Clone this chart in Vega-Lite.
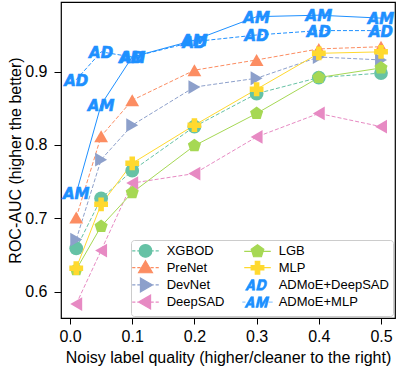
{
  "$schema": "https://vega.github.io/schema/vega-lite/v6.json",
  "width": 334,
  "height": 316,
  "autosize": "none",
  "padding": {"left": 61, "top": 2, "right": 3, "bottom": 54},
  "background": "white",
  "config": {
    "view": {"stroke": "black", "strokeWidth": 1.2},
    "axis": {"labelFont": "Liberation Sans", "labelFontSize": 16, "labelColor": "black", "titleFont": "Liberation Sans", "titleFontSize": 16, "titleFontWeight": "normal", "titleColor": "black", "tickColor": "black", "tickSize": 6, "tickWidth": 1, "domain": false, "grid": false, "labelFlush": false, "labelOverlap": false},
    "legend": {"orient": "bottom-right", "offset": 2, "padding": 4, "strokeColor": "#cccccc", "fillColor": "rgba(255,255,255,0.8)", "cornerRadius": 3, "columns": 2, "columnPadding": 16, "rowPadding": -1.8, "labelFont": "Liberation Sans", "labelFontSize": 13, "labelColor": "black", "symbolOffset": 4, "labelOffset": 14.7, "symbolSize": 160}
  },
  "data": {"values": [
    {"m": "XGBOD", "x": 0.01, "y": 0.659}, {"m": "XGBOD", "x": 0.05, "y": 0.727}, {"m": "XGBOD", "x": 0.1, "y": 0.765}, {"m": "XGBOD", "x": 0.2, "y": 0.825}, {"m": "XGBOD", "x": 0.3, "y": 0.870}, {"m": "XGBOD", "x": 0.4, "y": 0.892}, {"m": "XGBOD", "x": 0.5, "y": 0.898},
    {"m": "PreNet", "x": 0.01, "y": 0.701}, {"m": "PreNet", "x": 0.05, "y": 0.812}, {"m": "PreNet", "x": 0.1, "y": 0.861}, {"m": "PreNet", "x": 0.2, "y": 0.902}, {"m": "PreNet", "x": 0.3, "y": 0.916}, {"m": "PreNet", "x": 0.4, "y": 0.931}, {"m": "PreNet", "x": 0.5, "y": 0.934},
    {"m": "DevNet", "x": 0.01, "y": 0.671}, {"m": "DevNet", "x": 0.05, "y": 0.780}, {"m": "DevNet", "x": 0.1, "y": 0.827}, {"m": "DevNet", "x": 0.2, "y": 0.879}, {"m": "DevNet", "x": 0.3, "y": 0.891}, {"m": "DevNet", "x": 0.4, "y": 0.920}, {"m": "DevNet", "x": 0.5, "y": 0.916},
    {"m": "DeepSAD", "x": 0.01, "y": 0.583}, {"m": "DeepSAD", "x": 0.05, "y": 0.656}, {"m": "DeepSAD", "x": 0.1, "y": 0.748}, {"m": "DeepSAD", "x": 0.2, "y": 0.761}, {"m": "DeepSAD", "x": 0.3, "y": 0.811}, {"m": "DeepSAD", "x": 0.4, "y": 0.843}, {"m": "DeepSAD", "x": 0.5, "y": 0.825},
    {"m": "LGB", "x": 0.01, "y": 0.630}, {"m": "LGB", "x": 0.05, "y": 0.689}, {"m": "LGB", "x": 0.1, "y": 0.735}, {"m": "LGB", "x": 0.2, "y": 0.799}, {"m": "LGB", "x": 0.3, "y": 0.843}, {"m": "LGB", "x": 0.4, "y": 0.892}, {"m": "LGB", "x": 0.5, "y": 0.905},
    {"m": "MLP", "x": 0.01, "y": 0.632}, {"m": "MLP", "x": 0.05, "y": 0.719}, {"m": "MLP", "x": 0.1, "y": 0.775}, {"m": "MLP", "x": 0.2, "y": 0.827}, {"m": "MLP", "x": 0.3, "y": 0.876}, {"m": "MLP", "x": 0.4, "y": 0.925}, {"m": "MLP", "x": 0.5, "y": 0.927},
    {"m": "ADMoE+DeepSAD", "x": 0.01, "y": 0.889}, {"m": "ADMoE+DeepSAD", "x": 0.05, "y": 0.927}, {"m": "ADMoE+DeepSAD", "x": 0.1, "y": 0.920}, {"m": "ADMoE+DeepSAD", "x": 0.2, "y": 0.941}, {"m": "ADMoE+DeepSAD", "x": 0.3, "y": 0.950}, {"m": "ADMoE+DeepSAD", "x": 0.4, "y": 0.956}, {"m": "ADMoE+DeepSAD", "x": 0.5, "y": 0.956},
    {"m": "ADMoE+MLP", "x": 0.01, "y": 0.734}, {"m": "ADMoE+MLP", "x": 0.05, "y": 0.855}, {"m": "ADMoE+MLP", "x": 0.1, "y": 0.920}, {"m": "ADMoE+MLP", "x": 0.2, "y": 0.943}, {"m": "ADMoE+MLP", "x": 0.3, "y": 0.975}, {"m": "ADMoE+MLP", "x": 0.4, "y": 0.977}, {"m": "ADMoE+MLP", "x": 0.5, "y": 0.973}
  ]},
  "encoding": {
    "x": {"field": "x", "type": "quantitative", "scale": {"domain": [-0.0145, 0.5225], "nice": false, "zero": false}, "axis": {"values": [0, 0.1, 0.2, 0.3, 0.4, 0.5], "format": ".1f", "labelPadding": 4, "titlePadding": 5, "title": "Noisy label quality (higher/cleaner to the right)"}},
    "y": {"field": "y", "type": "quantitative", "scale": {"domain": [0.564, 0.995], "nice": false, "zero": false}, "axis": {"values": [0.6, 0.7, 0.8, 0.9], "format": ".1f", "tickSize": 7, "labelPadding": 7, "titlePadding": 1, "title": "ROC-AUC (higher the better)"}},
    "color": {"field": "m", "type": "nominal", "legend": null,
      "scale": {"domain": ["XGBOD", "PreNet", "DevNet", "DeepSAD", "LGB", "MLP", "ADMoE+DeepSAD", "ADMoE+MLP"], "range": ["#66c2a5", "#fc8d62", "#8da0cb", "#e78ac3", "#a6d854", "#ffd92f", "#1e90ff", "#1e90ff"]}}
  },
  "resolve": {"legend": {"color": "independent"}},
  "layer": [
    {
      "transform": [{"filter": "indexof(['LGB','MLP','ADMoE+MLP'], datum.m) < 0"}],
      "mark": {"type": "line", "strokeWidth": 1, "strokeDash": [4, 2]},
      "encoding": {
        "order": {"field": "x", "type": "quantitative"},
        "color": {"field": "m", "type": "nominal",
          "legend": {"title": null,
            "encode": {"symbols": {"update": {
              "shape": {"signal": "datum.value==='XGBOD'?'M-2.1,0L-1.6,0M-1.3,0L-0.8,0M0.8,0L1.3,0M1.6,0L2.1,0M1,0A1,1,0,1,1,-1,0A1,1,0,1,1,1,0Z':datum.value==='PreNet'?'M-2.1,0L-1.6,0M-1.3,0L-0.8,0M0.8,0L1.3,0M1.6,0L2.1,0M0,-1.1L1.1,0.8L-1.1,0.8Z':datum.value==='DevNet'?'M-2.1,0L-1.6,0M-1.3,0L-0.8,0M0.8,0L1.3,0M1.6,0L2.1,0M1.1,0L-0.8,1.1L-0.8,-1.1Z':datum.value==='DeepSAD'?'M-2.1,0L-1.6,0M-1.3,0L-0.8,0M0.8,0L1.3,0M1.6,0L2.1,0M-1.1,0L0.8,-1.1L0.8,1.1Z':datum.value==='LGB'?'M-2.1,0L2.1,0M0,-1.05L1,-0.32L0.62,0.85L-0.62,0.85L-1,-0.32Z':datum.value==='MLP'?'M-2.1,0L2.1,0M-1,-0.35L-0.35,-0.35L-0.35,-1L0.35,-1L0.35,-0.35L1,-0.35L1,0.35L0.35,0.35L0.35,1L-0.35,1L-0.35,0.35L-1,0.35Z':datum.value==='ADMoE+DeepSAD'?'M-1.91,0.85L-0.94,-0.85L-0.54,-0.85L-0.41,0.85L-0.81,0.85L-0.83,0.5L-1.33,0.5L-1.51,0.85ZM-1.15,0.2L-0.85,0.2L-0.86,-0.35ZM0.26,-0.85L1.01,-0.85C1.86,-0.85 1.44,0.85 0.59,0.85L-0.16,0.85ZM0.58,-0.5L0.33,0.5L0.63,0.5C1.08,0.5 1.33,-0.5 0.88,-0.5Z':'M-2.4,0L-1.9,0M1.75,0L2.4,0M-2.01,0.85L-1.04,-0.85L-0.64,-0.85L-0.51,0.85L-0.91,0.85L-0.93,0.5L-1.43,0.5L-1.61,0.85ZM-1.25,0.2L-0.95,0.2L-0.96,-0.35ZM-0.26,0.85L0.16,-0.85L0.66,-0.85L0.75,0.2L1.36,-0.85L1.86,-0.85L1.44,0.85L1.09,0.85L1.38,-0.3L0.74,0.85L0.44,0.85L0.38,-0.3L0.09,0.85Z'"},
              "fill": {"signal": "scale('color', datum.value)"},
              "stroke": {"signal": "scale('color', datum.value)"},
              "strokeWidth": {"signal": "indexof(['ADMoE+DeepSAD','ADMoE+MLP'], datum.value) >= 0 ? 0.6 : 1.2"},
              "strokeDash": {"value": []},
              "size": {"value": 160},
              "opacity": {"value": 1}
            }}}
          }
        }
      }
    },
    {
      "transform": [{"filter": "indexof(['LGB','MLP','ADMoE+MLP'], datum.m) >= 0"}],
      "mark": {"type": "line", "strokeWidth": 1},
      "encoding": {"order": {"field": "x", "type": "quantitative"}}
    },
    {
      "transform": [{"filter": "datum.m === 'XGBOD'"}],
      "mark": {"type": "point", "filled": true, "opacity": 1, "size": 190, "shape": "circle"},
      "encoding": {}
    },
    {
      "transform": [{"filter": "datum.m === 'PreNet'"}],
      "mark": {"type": "point", "filled": true, "opacity": 1, "size": 190, "shape": "triangle-up"},
      "encoding": {}
    },
    {
      "transform": [{"filter": "datum.m === 'DevNet'"}],
      "mark": {"type": "point", "filled": true, "opacity": 1, "size": 190, "shape": "triangle-right"},
      "encoding": {}
    },
    {
      "transform": [{"filter": "datum.m === 'DeepSAD'"}],
      "mark": {"type": "point", "filled": true, "opacity": 1, "size": 190, "shape": "triangle-left"},
      "encoding": {}
    },
    {
      "transform": [{"filter": "datum.m === 'LGB'"}],
      "mark": {"type": "point", "filled": true, "opacity": 1, "size": 190, "shape": "M0,-1L0.95,-0.31L0.59,0.81L-0.59,0.81L-0.95,-0.31Z"},
      "encoding": {}
    },
    {
      "transform": [{"filter": "datum.m === 'MLP'"}],
      "mark": {"type": "point", "filled": true, "opacity": 1, "size": 190, "shape": "cross"},
      "encoding": {}
    },
    {
      "transform": [{"filter": "indexof(['ADMoE+DeepSAD','ADMoE+MLP'], datum.m) >= 0"}],
      "mark": {"type": "text", "font": "DejaVu Sans", "fontStyle": "italic", "fontWeight": "bold", "fontSize": 15, "baseline": "middle", "align": "center", "dy": 1, "strokeWidth": 0.6},
      "encoding": {
        "stroke": {"field": "m", "type": "nominal", "scale": {"domain": ["ADMoE+DeepSAD", "ADMoE+MLP"], "range": ["#1e90ff", "#1e90ff"]}, "legend": null},
        "text": {"condition": {"test": "datum.m === 'ADMoE+MLP'", "value": "AM"}, "value": "AD"}
      }
    }
  ]
}
